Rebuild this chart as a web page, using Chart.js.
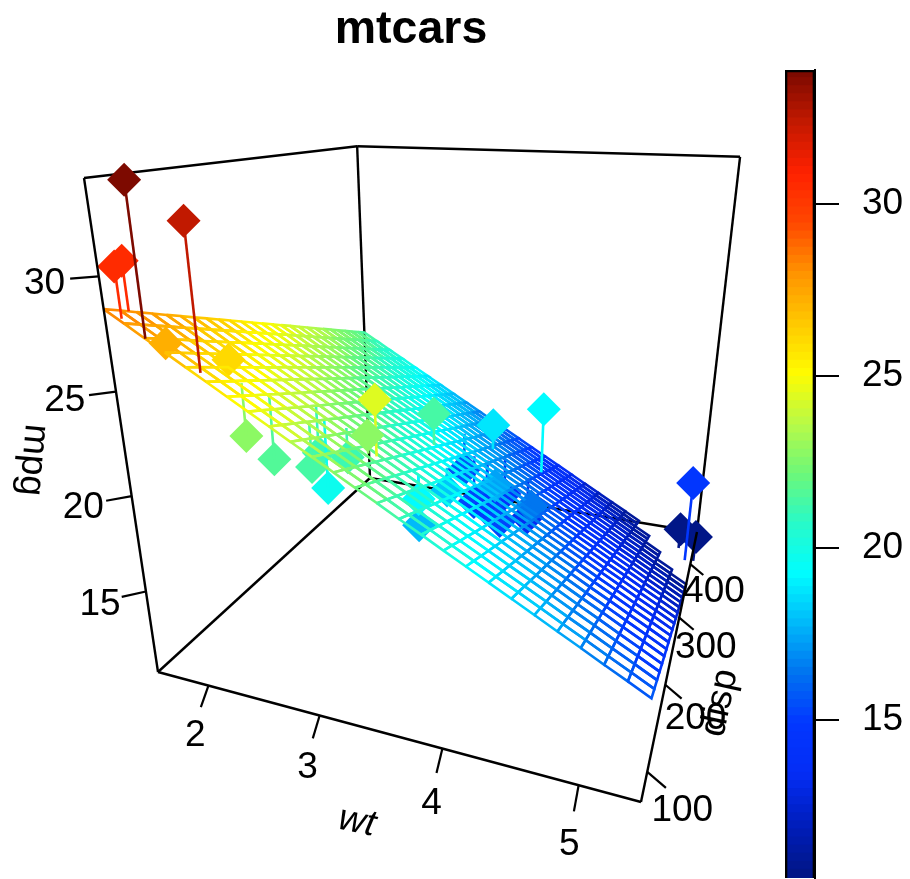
<!DOCTYPE html>
<html lang="en">
<head>
<meta charset="UTF-8">
<title>mtcars</title>
<script src="https://cdn.jsdelivr.net/npm/chart.js"></script>
<style>
    html, body { margin: 0; padding: 0; background: #fff; overflow: hidden; }
    canvas { position: absolute; top: 0; }
    #surfaceChart { left: 0; }
    #colorbarChart { left: 760px; }
</style>
</head>
<body>
<canvas id="surfaceChart" width="822" height="879"></canvas>
<canvas id="colorbarChart" width="150" height="879"></canvas>
<script>
// mtcars values
const wt = [2.62,2.875,2.32,3.215,3.44,3.46,3.57,3.19,3.15,3.44,3.44,4.07,3.73,3.78,5.25,5.424,5.345,2.2,1.615,1.835,2.465,3.52,3.435,3.84,3.845,1.935,2.14,1.513,3.17,2.77,3.57,2.78];
const disp = [160,160,108,258,360,225,360,146.7,140.8,167.6,167.6,275.8,275.8,275.8,472,460,440,78.7,75.7,71.1,120.1,318,304,350,400,79,120.3,95.1,351,145,301,121];
const mpg = [21,21,22.8,21.4,18.7,18.1,14.3,24.4,22.8,19.2,17.8,16.4,17.3,15.2,10.4,10.4,14.7,32.4,30.4,33.9,21.5,15.5,15.2,13.3,19.2,27.3,26,30.4,15.8,19.7,15,21.4];
// fitted mpg under each car (where the drop line ends)
const fitted = [23.35,22.49,25.27,19.62,17.05,19.38,16.62,21.67,21.91,20.46,20.46,16.44,17.57,17.41,9.00,8.63,9.25,26.19,28.21,27.55,24.57,17.53,18.06,15.89,14.99,27.08,25.66,28.21,18.12,23.11,17.66,23.50];

// surface grid
const wtGrid = [1.513,1.669,1.825,1.982,2.139,2.295,2.452,2.608,2.764,2.921,3.077,3.234,3.390,3.546,3.703,3.860,4.016,4.172,4.329,4.486,4.642,4.798,4.955,5.111,5.268,5.424];
const dispGrid = [71.1,87.1,103.2,119.2,135.2,151.3,167.3,183.4,199.4,215.4,231.5,247.5,263.5,279.6,295.6,311.6,327.7,343.7,359.7,375.8,391.8,407.8,423.9,439.9,455.9,472];
// one row per dispGrid value, one column per wtGrid value
const surfaceMpg = [
[28.63,28.11,27.58,27.06,26.53,26.01,25.48,24.96,24.44,23.91,23.39,22.86,22.34,21.82,21.29,20.77,20.24,19.72,19.19,18.67,18.15,17.62,17.10,16.57,16.05,15.52],
[28.35,27.83,27.30,26.78,26.25,25.73,25.20,24.68,24.16,23.63,23.11,22.58,22.06,21.54,21.01,20.49,19.96,19.44,18.91,18.39,17.87,17.34,16.82,16.29,15.77,15.24],
[28.06,27.54,27.01,26.49,25.96,25.44,24.91,24.39,23.87,23.34,22.82,22.29,21.77,21.25,20.72,20.20,19.67,19.15,18.62,18.10,17.58,17.05,16.53,16.00,15.48,14.95],
[27.78,27.26,26.73,26.21,25.68,25.16,24.63,24.11,23.59,23.06,22.54,22.01,21.49,20.97,20.44,19.92,19.39,18.87,18.34,17.82,17.30,16.77,16.25,15.72,15.20,14.67],
[27.49,26.97,26.44,25.92,25.39,24.87,24.34,23.82,23.30,22.77,22.25,21.72,21.20,20.68,20.15,19.63,19.10,18.58,18.05,17.53,17.01,16.48,15.96,15.43,14.91,14.38],
[27.21,26.69,26.16,25.64,25.11,24.59,24.06,23.54,23.02,22.49,21.97,21.44,20.92,20.40,19.87,19.35,18.82,18.30,17.77,17.25,16.73,16.20,15.68,15.15,14.63,14.10],
[26.92,26.40,25.87,25.35,24.82,24.30,23.77,23.25,22.73,22.20,21.68,21.15,20.63,20.11,19.58,19.06,18.53,18.01,17.48,16.96,16.44,15.91,15.39,14.86,14.34,13.81],
[26.64,26.12,25.59,25.07,24.54,24.02,23.49,22.97,22.45,21.92,21.40,20.87,20.35,19.83,19.30,18.78,18.25,17.73,17.20,16.68,16.16,15.63,15.11,14.58,14.06,13.53],
[26.36,25.84,25.31,24.79,24.26,23.74,23.21,22.69,22.17,21.64,21.12,20.59,20.07,19.55,19.02,18.50,17.97,17.45,16.92,16.40,15.88,15.35,14.83,14.30,13.78,13.25],
[26.07,25.55,25.02,24.50,23.97,23.45,22.92,22.40,21.88,21.35,20.83,20.30,19.78,19.26,18.73,18.21,17.68,17.16,16.63,16.11,15.59,15.06,14.54,14.01,13.49,12.96],
[25.79,25.27,24.74,24.22,23.69,23.17,22.64,22.12,21.60,21.07,20.55,20.02,19.50,18.98,18.45,17.93,17.40,16.88,16.35,15.83,15.31,14.78,14.26,13.73,13.21,12.68],
[25.50,24.98,24.45,23.93,23.40,22.88,22.35,21.83,21.31,20.78,20.26,19.73,19.21,18.69,18.16,17.64,17.11,16.59,16.06,15.54,15.02,14.49,13.97,13.44,12.92,12.39],
[25.22,24.70,24.17,23.65,23.12,22.60,22.07,21.55,21.03,20.50,19.98,19.45,18.93,18.41,17.88,17.36,16.83,16.31,15.78,15.26,14.74,14.21,13.69,13.16,12.64,12.11],
[24.94,24.42,23.89,23.37,22.84,22.32,21.79,21.27,20.75,20.22,19.70,19.17,18.65,18.13,17.60,17.08,16.55,16.03,15.50,14.98,14.46,13.93,13.41,12.88,12.36,11.83],
[24.65,24.13,23.60,23.08,22.55,22.03,21.50,20.98,20.46,19.93,19.41,18.88,18.36,17.84,17.31,16.79,16.26,15.74,15.21,14.69,14.17,13.64,13.12,12.59,12.07,11.54],
[24.37,23.85,23.32,22.80,22.27,21.75,21.22,20.70,20.18,19.65,19.13,18.60,18.08,17.56,17.03,16.51,15.98,15.46,14.93,14.41,13.89,13.36,12.84,12.31,11.79,11.26],
[24.08,23.56,23.03,22.51,21.98,21.46,20.93,20.41,19.89,19.36,18.84,18.31,17.79,17.27,16.74,16.22,15.69,15.17,14.64,14.12,13.60,13.07,12.55,12.02,11.50,10.97],
[23.80,23.28,22.75,22.23,21.70,21.18,20.65,20.13,19.61,19.08,18.56,18.03,17.51,16.99,16.46,15.94,15.41,14.89,14.36,13.84,13.32,12.79,12.27,11.74,11.22,10.69],
[23.51,22.99,22.46,21.94,21.41,20.89,20.36,19.84,19.32,18.79,18.27,17.74,17.22,16.70,16.17,15.65,15.12,14.60,14.07,13.55,13.03,12.50,11.98,11.45,10.93,10.40],
[23.23,22.71,22.18,21.66,21.13,20.61,20.08,19.56,19.04,18.51,17.99,17.46,16.94,16.42,15.89,15.37,14.84,14.32,13.79,13.27,12.75,12.22,11.70,11.17,10.65,10.12],
[22.95,22.43,21.90,21.38,20.85,20.33,19.80,19.28,18.76,18.23,17.71,17.18,16.66,16.14,15.61,15.09,14.56,14.04,13.51,12.99,12.47,11.94,11.42,10.89,10.37,9.84],
[22.66,22.14,21.61,21.09,20.56,20.04,19.51,18.99,18.47,17.94,17.42,16.89,16.37,15.85,15.32,14.80,14.27,13.75,13.22,12.70,12.18,11.65,11.13,10.60,10.08,9.55],
[22.38,21.86,21.33,20.81,20.28,19.76,19.23,18.71,18.19,17.66,17.14,16.61,16.09,15.57,15.04,14.52,13.99,13.47,12.94,12.42,11.90,11.37,10.85,10.32,9.80,9.27],
[22.09,21.57,21.04,20.52,19.99,19.47,18.94,18.42,17.90,17.37,16.85,16.32,15.80,15.28,14.75,14.23,13.70,13.18,12.65,12.13,11.61,11.08,10.56,10.03,9.51,8.98],
[21.81,21.29,20.76,20.24,19.71,19.19,18.66,18.14,17.62,17.09,16.57,16.04,15.52,15.00,14.47,13.95,13.42,12.90,12.37,11.85,11.33,10.80,10.28,9.75,9.23,8.70],
[21.53,21.01,20.48,19.96,19.43,18.91,18.38,17.86,17.34,16.81,16.29,15.76,15.24,14.72,14.19,13.67,13.14,12.62,12.09,11.57,11.05,10.52,10.00,9.47,8.95,8.42]
];

// axis ranges and ticks
const wtRange = [1.513, 5.424];
const dispRange = [71.1, 472];
const mpgRange = [10.4, 33.9];
const wtTicks = [2, 3, 4, 5];
const dispTicks = [100, 200, 300, 400];
const mpgTicks = [15, 20, 25, 30];
const colorbarTicks = [15, 20, 25, 30];

// jet palette at even steps
const jetStops = [[1,22,135],[0,30,190],[4,45,245],[2,55,255],[0,115,240],[0,185,250],[0,253,255],[40,250,200],[110,248,120],[185,250,70],[255,251,0],[255,200,0],[255,147,0],[255,72,0],[255,33,0],[195,25,0],[125,10,0]];
const jetLevels = 100;

function jetColor(z) {
    let level = Math.floor((z - mpgRange[0]) / (mpgRange[1] - mpgRange[0]) * jetLevels);
    level = Math.max(0, Math.min(jetLevels - 1, level));
    const t = level / (jetLevels - 1) * (jetStops.length - 1);
    const i = Math.min(Math.floor(t), jetStops.length - 2);
    const f = t - i;
    const c = [0, 1, 2].map(k => Math.round(jetStops[i][k] + (jetStops[i + 1][k] - jetStops[i][k]) * f));
    return 'rgb(' + c.join(',') + ')';
}

// perspective of the box: 3 box edges out of one corner, with their depth weights
const corner = [158, 672];
const cornerWt = [641, 802], depthWt = 0.82;
const cornerDisp = [370, 478], depthDisp = 1.508;
const cornerMpg = [84, 178], depthMpg = 0.80;

function view(u, v, w) {
    const W = 1 + u * (depthWt - 1) + v * (depthDisp - 1) + w * (depthMpg - 1);
    const pick = k => corner[k] + u * (depthWt * cornerWt[k] - corner[k]) + v * (depthDisp * cornerDisp[k] - corner[k]) + w * (depthMpg * cornerMpg[k] - corner[k]);
    return { x: pick(0) / W, y: pick(1) / W, depth: W };
}
const toU = a => (a - wtRange[0]) / (wtRange[1] - wtRange[0]);
const toV = a => (a - dispRange[0]) / (dispRange[1] - dispRange[0]);
const toW = a => (a - mpgRange[0]) / (mpgRange[1] - mpgRange[0]);

const datasets = [];
function addLine(points, color, width, depth) {
    datasets.push({
        type: 'scatter', showLine: true, data: points.map(p => ({ x: p.x, y: p.y })),
        borderColor: color, borderWidth: width, pointRadius: 0, tension: 0, clip: false,
        borderJoinStyle: 'miter', order: depth
    });
}

// box edges: far ones are drawn first and so get the wire over them
const boxBack = [
    [[0,1,0],[0,1,1]], [[0,1,0],[0,0,0]], [[0,1,0],[1,1,0]],
    [[0,1,1],[0,0,1]], [[0,1,1],[1,1,1]], [[1,1,0],[1,1,1]]
];
boxBack.forEach(e => addLine(e.map(p => view(p[0], p[1], p[2])), '#000', 2.4, 50));
const boxAxes = [[[0,0,0],[1,0,0]], [[1,0,0],[1,1,0]], [[0,0,0],[0,0,1]]];
boxAxes.forEach(e => addLine(e.map(p => view(p[0], p[1], p[2])), '#000', 2.4, -10));

// ticks and their labels
const texts = [];
const axisFont = '37px "Liberation Sans", Arial, sans-serif';
wtTicks.forEach(t => {
    const u = toU(t);
    addLine([view(u, 0, 0), view(u, -0.03, -0.03)], '#000', 2.2, -10);
    const p = view(u, -0.055, -0.073);
    texts.push({ text: String(t), x: p.x, y: p.y + 3, rot: 0, font: axisFont });
});
dispTicks.forEach(t => {
    const v = toV(t);
    addLine([view(1, v, 0), view(1.035, v, -0.025)], '#000', 2.2, -10);
    const p = view(1.07, v, -0.058);
    texts.push({ text: String(t), x: p.x - 2, y: p.y + 3, rot: 0, font: axisFont });
});
mpgTicks.forEach(t => {
    const w = toW(t);
    addLine([view(0, 0, w), view(-0.032, -0.032, w)], '#000', 2.2, -10);
    const p = view(-0.06, -0.06, w);
    texts.push({ text: String(t), x: p.x, y: p.y + 3, rot: 0, font: axisFont });
});
texts.push({ text: 'wt', x: 357, y: 822, rot: 12, font: 'italic ' + axisFont });
texts.push({ text: 'mpg', x: 33, y: 460, rot: 95, font: axisFont });
texts.push({ text: 'disp', x: 720, y: 703, rot: -78, font: axisFont });

// wire surface, cells running under the mpg range are left out
for (let j = 0; j < dispGrid.length - 1; j++) {
    for (let i = 0; i < wtGrid.length - 1; i++) {
        const z = [surfaceMpg[j][i], surfaceMpg[j][i + 1], surfaceMpg[j + 1][i + 1], surfaceMpg[j + 1][i]];
        if (Math.min(...z) < mpgRange[0]) continue;
        const us = [i, i + 1, i + 1, i], vs = [j, j, j + 1, j + 1];
        const pts = z.map((m, k) => view(toU(wtGrid[us[k]]), toV(dispGrid[vs[k]]), toW(m)));
        const mean = (z[0] + z[1] + z[2] + z[3]) / 4;
        const depth = pts.reduce((s, p) => s + p.depth, 0) / 4;
        addLine([pts[0], pts[1], pts[2], pts[3], pts[0]], jetColor(mean), 2.6, depth);
    }
}

// cars with their drop lines
mpg.forEach((m, k) => {
    const top = view(toU(wt[k]), toV(disp[k]), toW(m));
    const foot = view(toU(wt[k]), toV(disp[k]), toW(fitted[k]));
    addLine([top, foot], jetColor(m), 2.6, (top.depth + foot.depth) / 2);
    datasets.push({
        type: 'scatter', data: [{ x: top.x, y: top.y }],
        pointStyle: 'rectRot', pointRadius: 17, pointBorderWidth: 0,
        backgroundColor: jetColor(m), clip: false, order: top.depth
    });
});

const textPlugin = {
    id: 'boxText',
    afterDatasetsDraw(chart) {
        const ctx = chart.ctx;
        ctx.save();
        ctx.fillStyle = '#000';
        ctx.textAlign = 'center';
        ctx.textBaseline = 'middle';
        texts.forEach(t => {
            ctx.save();
            ctx.translate(chart.scales.x.getPixelForValue(t.x), chart.scales.y.getPixelForValue(t.y));
            ctx.rotate(t.rot * Math.PI / 180);
            ctx.font = t.font;
            ctx.fillText(t.text, 0, 0);
            ctx.restore();
        });
        ctx.restore();
    }
};

new Chart(document.getElementById('surfaceChart').getContext('2d'), {
    data: { datasets: datasets },
    plugins: [textPlugin],
    options: {
        responsive: false,
        animation: false,
        events: [],
        layout: { padding: 0, autoPadding: false },
        scales: {
            x: { type: 'linear', min: 0, max: 822, display: false },
            y: { type: 'linear', min: 55, max: 879, reverse: true, display: false }
        },
        plugins: {
            legend: { display: false },
            tooltip: { enabled: false },
            title: {
                display: true, text: 'mtcars', color: '#000', padding: { top: 6, bottom: 0 },
                font: { family: '"Liberation Sans", Arial, sans-serif', size: 46.5, weight: 'bold', lineHeight: 49 / 46.5 }
            }
        }
    }
});

// colour bar
const barSets = [{
    data: [[mpgRange[0], mpgRange[1]]], backgroundColor: 'rgba(0,0,0,0)',
    borderColor: '#000', borderWidth: 2, order: 0
}];
for (let n = 0; n < jetLevels; n++) {
    const step = (mpgRange[1] - mpgRange[0]) / jetLevels;
    const lo = mpgRange[0] + n * step;
    barSets.push({ data: [[lo, Math.min(lo + step + 0.02, mpgRange[1])]], backgroundColor: jetColor(lo + step / 2), borderWidth: 0, order: 1 });
}

new Chart(document.getElementById('colorbarChart').getContext('2d'), {
    type: 'bar',
    data: { labels: ['mpg'], datasets: barSets },
    options: {
        responsive: false,
        animation: false,
        events: [],
        layout: { padding: { top: 70, bottom: 1, left: 25, right: 0 }, autoPadding: false },
        datasets: { bar: { barPercentage: 1, categoryPercentage: 1, grouped: false } },
        scales: {
            x: { display: false },
            y: {
                position: 'right', min: mpgRange[0], max: mpgRange[1],
                afterBuildTicks(scale) { scale.ticks = colorbarTicks.map(v => ({ value: v })); },
                afterFit(scale) { scale.width = 95; scale.paddingTop = 0; scale.paddingBottom = 0; },
                border: { display: true, color: '#000', width: 2 },
                grid: { drawOnChartArea: false, drawTicks: true, tickLength: 24, color: '#000', lineWidth: 2 },
                ticks: { color: '#000', padding: 23, autoSkip: false, maxRotation: 0, font: { family: '"Liberation Sans", Arial, sans-serif', size: 37 } }
            }
        },
        plugins: { legend: { display: false }, tooltip: { enabled: false } }
    }
});
</script>
</body>
</html>
